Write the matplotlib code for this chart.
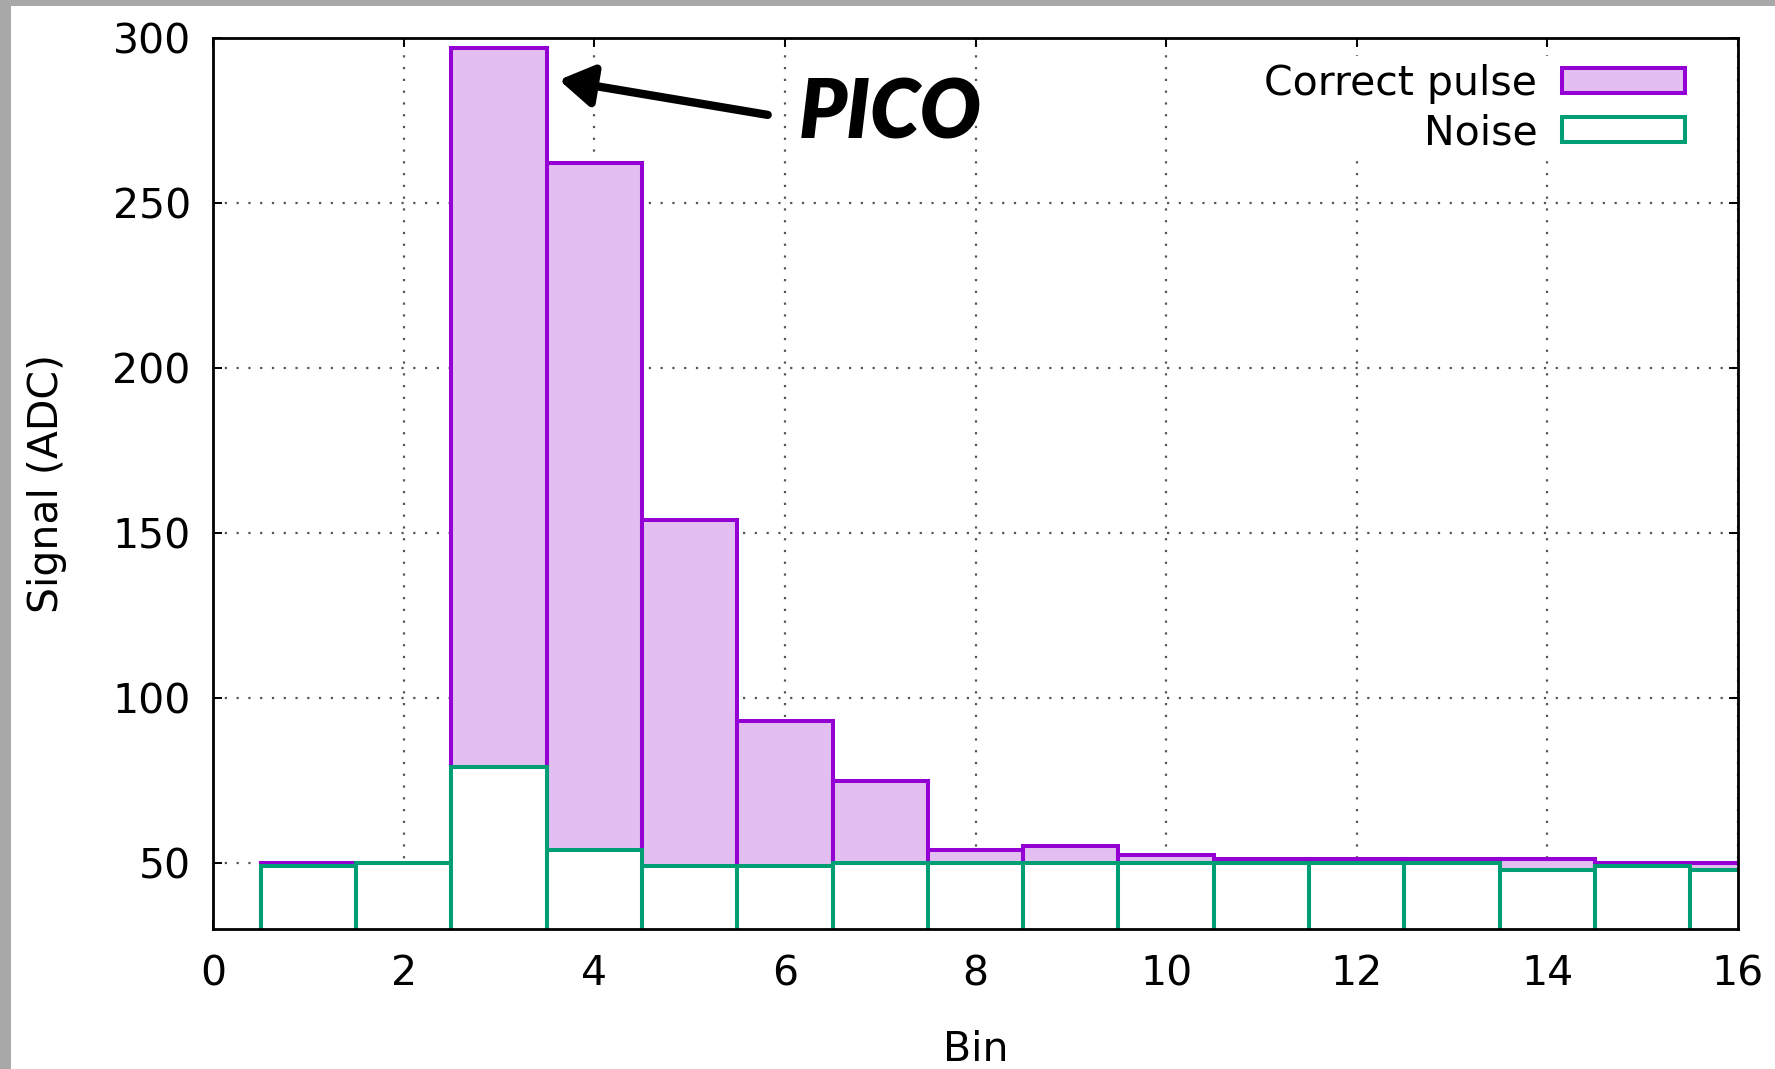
import matplotlib
matplotlib.use("Agg")
import matplotlib.pyplot as plt
from matplotlib.patches import Patch, Rectangle

# ---- data ----
bins = [1, 2, 3, 4, 5, 6, 7, 8, 9, 10, 11, 12, 13, 14, 15, 16]
correct_pulse = [50, 50, 297, 262, 154, 93, 75, 54, 55.3, 52.5, 51.3, 51.3, 51.3, 51.3, 50, 50]
noise = [49, 50, 79, 54, 49, 49, 50, 50, 50, 50, 50, 50, 50, 48, 49.2, 48]
xticks = [0, 2, 4, 6, 8, 10, 12, 14, 16]
yticks = [50, 100, 150, 200, 250, 300]
series_labels = ["Correct pulse", "Noise"]
annotation_text = "PICO"

PURPLE = "#9400d3"
PURPLE_FILL = "#e3bef1"
GREEN = "#009e73"
FS = 29.5

plt.rcParams['font.family'] = ['DejaVu Sans']

fig = plt.figure(figsize=(17.75, 10.69), dpi=100)
ax = fig.add_axes([213/1775, 1 - 929/1069, (1738-213)/1775, (929-38)/1069])

# grey screenshot border (left and top)
fig.patches.append(Rectangle((0, 0), 11/1775, 1, transform=fig.transFigure,
                             facecolor="#a8a8a8", edgecolor="none", zorder=10))
fig.patches.append(Rectangle((0, 1 - 6/1069), 1, 6/1069, transform=fig.transFigure,
                             facecolor="#a8a8a8", edgecolor="none", zorder=10))

ax.bar(bins, correct_pulse, width=1.0, bottom=0, color=PURPLE_FILL,
       edgecolor=PURPLE, linewidth=2.9, zorder=2)
ax.bar(bins, noise, width=1.0, bottom=0, color="white",
       edgecolor=GREEN, linewidth=2.9, zorder=3)

ax.set_xlim(0, 16)
ax.set_ylim(30, 300)
ax.set_xticks(xticks)
ax.set_yticks(yticks)
ax.tick_params(direction="in", length=6.5, width=1.4, top=True, right=True,
               labelsize=FS, pad=18)
ax.tick_params(axis="y", pad=16)
for s in ax.spines.values():
    s.set_linewidth(2.0)
    s.set_color("black")
    s.set_zorder(5)

ax.set_axisbelow(True)
ax.grid(True, color="#555555", linestyle=(0, (1, 4.3)), linewidth=1.6)

ax.set_xlabel("Bin", fontsize=FS, labelpad=26)
ax.set_ylabel("Signal (ADC)", fontsize=FS)
ax.yaxis.set_label_coords(-0.096, 0.5)

handles = [Patch(facecolor=PURPLE_FILL, edgecolor=PURPLE, linewidth=2.9),
           Patch(facecolor="white", edgecolor=GREEN, linewidth=2.9)]
leg = ax.legend(handles, series_labels, loc="upper right", fontsize=FS,
                markerfirst=False, frameon=True, framealpha=1, facecolor="white",
                edgecolor="none", handlelength=3.0, handleheight=0.55,
                handletextpad=0.6, labelspacing=0.22, borderpad=0.2,
                bbox_to_anchor=(1 - 45/1525, 1 - 18/891), borderaxespad=0)
leg.get_frame().set_linewidth(0)
leg.set_zorder(4)

ax.annotate("", xy=(3.63, 287.3), xytext=(5.82, 276.7),
            arrowprops=dict(arrowstyle="-|>,head_length=0.45,head_width=0.28",
                            color="black", lw=6, mutation_scale=45,
                            shrinkA=0, shrinkB=0, capstyle="round",
                            joinstyle="round"), zorder=6)
ax.text(7.1, 269.4, annotation_text, fontsize=58, fontweight="heavy",
        style="italic", family=["Lato", "DejaVu Sans"], ha="center",
        va="baseline", color="black", zorder=6)

fig.savefig("out.png", dpi=100)
